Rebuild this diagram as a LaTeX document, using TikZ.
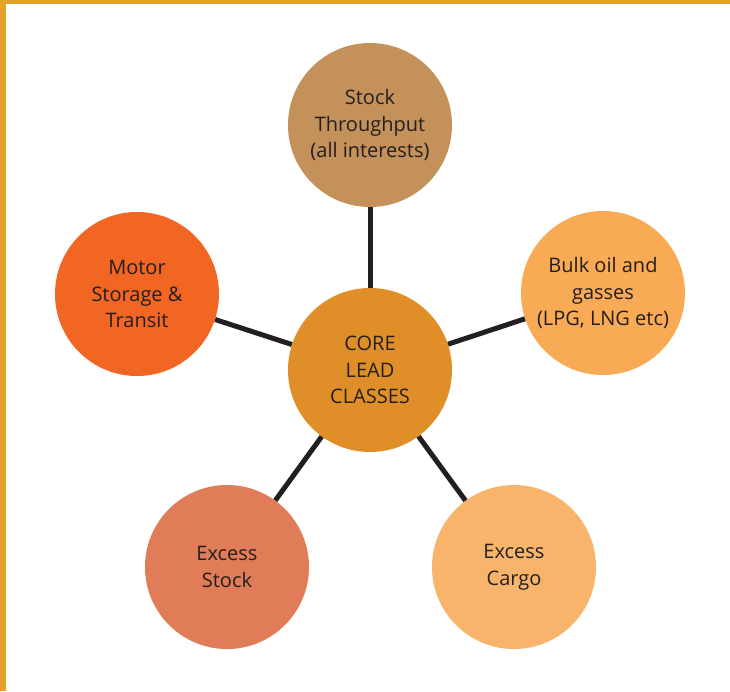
\documentclass[tikz,border=0pt]{standalone}
\usepackage{fontspec}
\setmainfont{Open Sans}
\definecolor{frame}{HTML}{E5A229}
\definecolor{cTop}{HTML}{C4915A}
\definecolor{cBulk}{HTML}{F8AA55}
\definecolor{cCargo}{HTML}{F8B46A}
\definecolor{cStock}{HTML}{E07C57}
\definecolor{cMotor}{HTML}{F26623}
\definecolor{cCore}{HTML}{E08E28}
\definecolor{ink}{HTML}{231F20}
\tikzset{
  bubble/.style={circle, minimum size=164pt, inner sep=0pt, align=center,
    text=ink, font=\fontsize{20pt}{26.7pt}\selectfont},
  link/.style={draw=ink, line width=5pt}
}
\begin{document}
\begin{tikzpicture}[x=1pt,y=-1pt]
\useasboundingbox (0,0) rectangle (730,691);
\fill[white] (0,0) rectangle (730,691);
\fill[frame] (0,0) rectangle (730,4);
\fill[frame] (0,0) rectangle (6,691);
\node[bubble, fill=cCore] (core) at (370,370) {CORE\\LEAD\\CLASSES};
\node[bubble, fill=cTop] (top) at (370,125) {Stock\\Throughput\\(all interests)};
\node[bubble, fill=cBulk] (bulk) at (603,293) {Bulk oil and\\gasses\\(LPG, LNG etc)};
\node[bubble, fill=cCargo] (cargo) at (514,567) {Excess\\Cargo};
\node[bubble, fill=cStock] (stock) at (227,567) {Excess\\Stock};
\node[bubble, fill=cMotor] (motor) at (137,294) {Motor\\Storage \&\\Transit};
\draw[link] (core) -- (top);
\draw[link] (core) -- (bulk);
\draw[link] (core) -- (cargo);
\draw[link] (core) -- (stock);
\draw[link] (core) -- (motor);
\end{tikzpicture}
\end{document}
